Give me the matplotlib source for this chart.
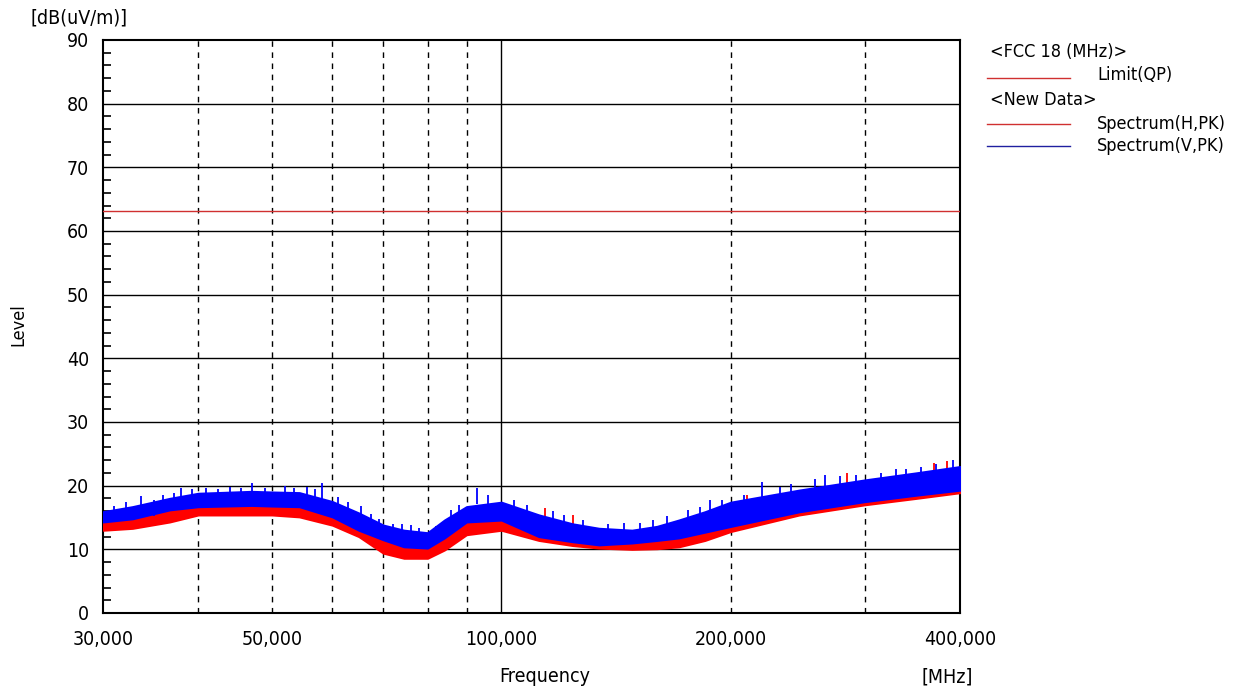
import matplotlib
matplotlib.use("Agg")
import matplotlib.pyplot as plt
from matplotlib.ticker import FixedLocator, MultipleLocator, NullFormatter

plt.rcParams['font.family'] = ['DejaVu Sans']
plt.rcParams['font.stretch'] = 'condensed'

freq = [30, 32.8, 36.7, 40, 47, 50, 54.3, 60, 65, 70, 74.5, 80, 84.2, 90, 100,
        112, 124, 134.3, 148.4, 160, 171, 185, 200, 246, 300, 350, 400]
# vertical polarisation (blue) band, dB(uV/m)
v_top = [15.9, 16.7, 18.0, 18.8, 19.1, 19.0, 18.9, 17.5, 15.7, 13.8, 13.0, 12.6, 14.6, 16.7, 17.4,
         15.4, 14.0, 13.3, 13.0, 13.6, 14.6, 15.9, 17.4, 19.3, 20.9, 22.0, 23.0]
v_bot = [14.3, 14.8, 16.2, 16.7, 16.9, 16.8, 16.7, 15.1, 13.0, 11.5, 10.4, 10.2, 11.8, 14.3, 14.6,
         12.0, 11.2, 10.7, 11.0, 11.4, 11.8, 12.7, 13.6, 15.9, 17.5, 18.5, 19.3]
# horizontal polarisation (red) band
h_top = [14.8, 15.4, 16.8, 17.4, 17.6, 17.5, 17.2, 15.8, 13.6, 12.2, 11.2, 11.0, 12.6, 14.8, 15.2,
         13.4, 12.6, 12.0, 12.0, 12.4, 12.8, 13.8, 15.0, 17.0, 18.6, 19.6, 20.5]
h_bot = [13.0, 13.3, 14.3, 15.4, 15.4, 15.4, 15.1, 13.8, 12.0, 9.4, 8.6, 8.6, 9.9, 12.3, 13.0,
         11.4, 10.6, 10.2, 10.0, 10.1, 10.4, 11.4, 12.8, 15.4, 17.0, 18.0, 18.9]

# peaks that stick out above the bands
v_spike_f = [31.0, 32.2, 33.6, 35.0, 36.0, 37.2, 38.0, 39.2, 41.0, 42.5, 44.0, 45.5, 47.1, 49.0,
             52.0, 53.5, 55.5, 57.0, 58.2, 61.0, 63.0, 65.5, 67.5, 69.0, 72.0, 74.0, 76.0, 78.0,
             82.0, 86.0, 88.0, 93.0, 96.0, 104.0, 108.0, 117.0, 121.0, 128.0, 138.0, 145.0,
             152.0, 158.0, 165.0, 176.0, 182.0, 188.0, 195.0, 208.0, 220.0, 232.0, 240.0,
             258.0, 266.0, 278.0, 292.0, 315.0, 330.0, 340.0, 355.0, 372.0, 391.0]
v_spike_y = [16.8, 17.4, 18.4, 17.8, 18.6, 18.9, 19.6, 19.4, 19.7, 19.5, 19.8, 19.6, 20.4, 19.7,
             20.0, 19.6, 19.8, 19.4, 20.4, 18.2, 17.4, 16.8, 15.6, 14.8, 14.0, 13.9, 13.8, 13.4,
             13.6, 16.2, 17.0, 19.6, 18.6, 17.8, 17.0, 16.0, 15.4, 14.6, 14.0, 14.2, 14.2, 14.6,
             15.2, 16.2, 16.6, 17.7, 17.8, 18.6, 20.6, 19.8, 20.2, 21.0, 21.7, 21.5, 21.6, 22.0,
             22.6, 22.6, 23.0, 23.4, 24.0]
h_spike_f = [114.0, 124.0, 210.0, 284.0, 370.0, 385.0]
h_spike_y = [16.5, 15.4, 18.6, 22.0, 23.6, 23.8]

limit_f = [30, 400]
limit_y = [63.2, 63.2]

x_ticks = [30, 50, 100, 200, 400]
x_tick_labels = ['30,000', '50,000', '100,000', '200,000', '400,000']
dashed_f = [40, 50, 60, 70, 80, 90, 200, 300]

fig = plt.figure(figsize=(12.47, 6.92), dpi=100)
ax = fig.add_axes([0.0826, 0.1142, 0.6873, 0.828])

ax.set_xscale('log')
ax.set_xlim(30, 400)
ax.set_ylim(0, 90)

# grid
for yv in range(10, 90, 10):
    ax.axhline(yv, color='black', lw=1.0, zorder=1)
for fv in dashed_f:
    ax.axvline(fv, color='black', lw=1.0, ls=(0, (4, 4)), zorder=1)
ax.axvline(100, color='black', lw=1.0, zorder=1)

# limit
ax.plot(limit_f, limit_y, color='#d03030', lw=1.0, zorder=3)

# spectra
ax.fill_between(freq, h_bot, h_top, color='#ff0000', lw=1.5, zorder=3)
ax.vlines(h_spike_f, [t - 2 for t in h_spike_y], h_spike_y, color='#ff0000', lw=1.3, zorder=3)
ax.fill_between(freq, v_bot, v_top, color='#0000ff', lw=1.5, zorder=4)
ax.vlines(v_spike_f, [t - 2.5 for t in v_spike_y], v_spike_y, color='#0000ff', lw=1.3, zorder=4)

# ticks
ax.xaxis.set_major_locator(FixedLocator(x_ticks))
ax.set_xticklabels(x_tick_labels)
ax.xaxis.set_minor_locator(FixedLocator([]))
ax.xaxis.set_minor_formatter(NullFormatter())
ax.yaxis.set_major_locator(MultipleLocator(10))
ax.yaxis.set_minor_locator(MultipleLocator(2))
ax.tick_params(axis='both', which='major', length=0, labelsize=14, pad=10)
ax.tick_params(axis='y', which='minor', direction='in', length=6, width=1.2)
ax.tick_params(axis='x', which='major', pad=12)
for s in ax.spines.values():
    s.set_linewidth(1.5)

# axis texts
fig.text(30 / 1247, 1 - 18 / 692, '[dB(uV/m)]', fontsize=14, va='center', ha='left')
fig.text(18 / 1247, 1 - 325 / 692, 'Level', fontsize=13, rotation=90, va='center', ha='center')
fig.text(545 / 1247, 1 - 677 / 692, 'Frequency', fontsize=14, va='center', ha='center')
fig.text(947 / 1247, 1 - 677 / 692, '[MHz]', fontsize=14, va='center', ha='center')

# legend, drawn by hand as in the receiver software
lx0, lx1, tx = 987 / 1247, 1070 / 1247, 1097 / 1247
def fy(p):
    return 1 - p / 692
fig.text(990 / 1247, fy(52), '<FCC 18 (MHz)>', fontsize=13, va='center')
fig.add_artist(plt.Line2D([lx0, lx1], [fy(78), fy(78)], color='#d03030', lw=1.0))
fig.text(tx, fy(75), 'Limit(QP)', fontsize=13, va='center')
fig.text(990 / 1247, fy(100), '<New Data>', fontsize=13, va='center')
fig.add_artist(plt.Line2D([lx0, lx1], [fy(124), fy(124)], color='#d03030', lw=1.0))
fig.text(tx, fy(124), 'Spectrum(H,PK)', fontsize=13, va='center')
fig.add_artist(plt.Line2D([lx0, lx1], [fy(146), fy(146)], color='#2020a0', lw=1.0))
fig.text(tx, fy(146), 'Spectrum(V,PK)', fontsize=13, va='center')

fig.savefig('out.png', dpi=100)
